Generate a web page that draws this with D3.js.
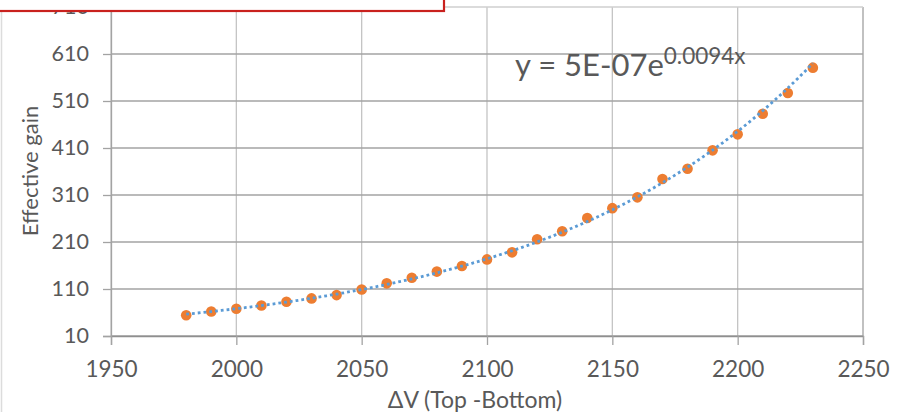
<!DOCTYPE html>
<html>
<head>
<meta charset="utf-8">
<script src="https://cdn.jsdelivr.net/npm/d3@7"></script>
<style>
  html, body { margin: 0; padding: 0; background: #fff; }
  svg { display: block; }
  text { font-family: "Lato", "Liberation Sans", sans-serif; fill: #595959; }
</style>
</head>
<body>
<script>
// Measured points: applied voltage difference vs effective gain
const deltaV = [1980, 1990, 2000, 2010, 2020, 2030, 2040, 2050, 2060, 2070, 2080, 2090, 2100,
                2110, 2120, 2130, 2140, 2150, 2160, 2170, 2180, 2190, 2200, 2210, 2220, 2230];
const gain   = [54, 62, 68, 75, 83, 90, 97, 109, 122, 134, 147, 159, 173,
                188, 216, 233, 261, 282, 305, 344, 366, 405, 439, 483, 527, 581];

const xTicks = [1950, 2000, 2050, 2100, 2150, 2200, 2250];
const yTicks = [10, 110, 210, 310, 410, 510, 610, 710];

const equationMain = "y = 5E-07e";
const equationExp = "0.0094x";
const xTitle = "ΔV (Top -Bottom)";
const yTitle = "Effective gain";

const W = 905, H = 412;
const plot = { left: 111, right: 863, top: 7, bottom: 336 };

const svg = d3.select("body").append("svg").attr("width", W).attr("height", H);

const x = d3.scaleLinear().domain([1950, 2250]).range([plot.left, plot.right]);
const y = d3.scaleLinear().domain([10, 710]).range([plot.bottom, plot.top]);

// faint outer edge of the chart area
svg.append("line").attr("x1", 1.5).attr("x2", 1.5).attr("y1", 0).attr("y2", H)
  .attr("stroke", "#dcdcdc").attr("stroke-width", 1.5);

// vertical gridlines
svg.append("g").selectAll("line").data(xTicks).join("line")
  .attr("x1", d => x(d)).attr("x2", d => x(d))
  .attr("y1", plot.top).attr("y2", plot.bottom)
  .attr("stroke", d => d === 2250 ? "#a0a0a0" : "#c4c4c4").attr("stroke-width", 1.3);

// horizontal gridlines
svg.append("g").selectAll("line").data(yTicks).join("line")
  .attr("x1", plot.left).attr("x2", plot.right)
  .attr("y1", d => y(d)).attr("y2", d => y(d))
  .attr("stroke", d => d === 710 ? "#cfcfcf" : "#a3a3a3").attr("stroke-width", 1.3);

// axes
const xAxis = d3.axisBottom(x).tickValues(xTicks).tickSize(9).tickPadding(16).tickFormat(d3.format("d"));
const yAxis = d3.axisLeft(y).tickValues(yTicks).tickSize(8).tickPadding(14).tickFormat(d3.format("d"));

const gx = svg.append("g").attr("transform", `translate(0,${plot.bottom})`).call(xAxis);
const gy = svg.append("g").attr("transform", `translate(${plot.left},0)`).call(yAxis);

[gx, gy].forEach(g => {
  g.select(".domain").attr("stroke", "#a3a3a3").attr("stroke-width", 1.3);
  g.selectAll(".tick line").attr("stroke", "#a3a3a3").attr("stroke-width", 1.3);
  g.selectAll(".tick text").attr("fill", "#595959")
    .attr("font-family", "Lato, 'Liberation Sans', sans-serif");
});
gx.selectAll(".tick text").attr("font-size", 22.5);
gy.selectAll(".tick text").attr("font-size", 21.5);
gx.select(".domain").attr("stroke", "#8f8f8f");

// axis titles
svg.append("text").attr("x", 475).attr("y", 408).attr("text-anchor", "middle")
  .attr("font-size", 23).text(xTitle);
svg.append("text").attr("transform", `translate(38,171) rotate(-90)`)
  .attr("text-anchor", "middle").attr("font-size", 22).text(yTitle);

// data markers
svg.append("g").selectAll("circle").data(deltaV).join("circle")
  .attr("cx", d => x(d)).attr("cy", (d, i) => y(gain[i]))
  .attr("r", 5.3).attr("fill", "#ED7D31");

// exponential trendline: least-squares fit of ln(gain) against deltaV
const lnG = gain.map(Math.log);
const mx = d3.mean(deltaV), my = d3.mean(lnG);
const slope = d3.sum(deltaV, (v, i) => (v - mx) * (lnG[i] - my)) / d3.sum(deltaV, v => (v - mx) ** 2);
const icpt = my - slope * mx;
const trendX = d3.range(deltaV[0], deltaV[deltaV.length - 1] + 0.01, 2);
svg.append("path")
  .datum(trendX)
  .attr("d", d3.line().x(v => x(v)).y(v => y(Math.exp(icpt + slope * v))))
  .attr("fill", "none").attr("stroke", "#5B9BD5").attr("stroke-width", 2.8)
  .attr("stroke-dasharray", "2.8 3");

// fitted equation label
const eq = svg.append("text").attr("x", 515).attr("y", 76).attr("font-size", 31);
eq.append("tspan").text(equationMain);
eq.append("tspan").attr("font-size", 22.5).attr("dy", -12).text(equationExp);

// red framed box at the top-left edge
svg.append("rect").attr("x", -5).attr("y", -40).attr("width", 449).attr("height", 51)
  .attr("fill", "#fff").attr("stroke", "#C9211E").attr("stroke-width", 2.2);
</script>
</body>
</html>
